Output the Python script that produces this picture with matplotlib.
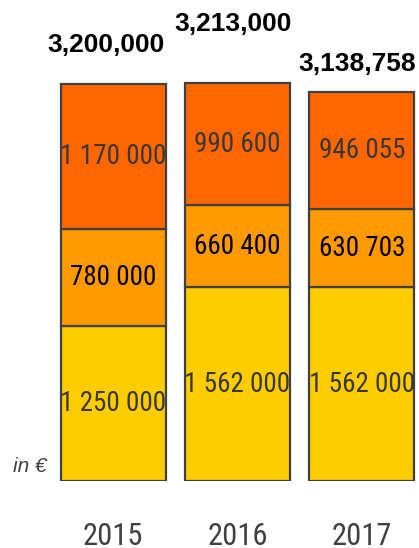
import matplotlib
matplotlib.use("Agg")
import matplotlib.pyplot as plt
from matplotlib import font_manager

years = ["2015", "2016", "2017"]
bottom_vals = [1250000, 1562000, 1562000]
middle_vals = [780000, 660400, 630703]
top_vals = [1170000, 990600, 946055]
totals = [3200000, 3213000, 3138758]
total_labels = ["3,200,000", "3,213,000", "3,138,758"]

def fmt(v):
    return f"{v:,}".replace(",", " ")

names = {f.name for f in font_manager.fontManager.ttflist}
if "Roboto Condensed" in names:
    cond = "Roboto Condensed"
    seg_size = 19.5
    yr_size = 22
elif "Liberation Sans Narrow" in names:
    cond = "Liberation Sans Narrow"
    seg_size = 20
    yr_size = 23
else:
    cond = "Roboto"
    seg_size = 15
    yr_size = 18

W, H = 419, 548
fig = plt.figure(figsize=(W / 100, H / 100), dpi=100)
ax_bottom = (H - 481) / H
ax = fig.add_axes([0, ax_bottom, 1, 1 - ax_bottom])
px_per_unit = 124.3
c0 = 113.2
ax.set_xlim(-c0 / px_per_unit, (W - c0) / px_per_unit)
ax.set_ylim(0, 481 / 124.0 * 1e6)

x = list(range(len(years)))
edge = "#404040"
width = 0.845
colors = ["#FFCC00", "#FF9900", "#FF6600"]
bottoms = [0] * 3
segs = [bottom_vals, middle_vals, top_vals]
txt_colors = ["#383838", "#000000", "#383838"]
for vals, col, tc in zip(segs, colors, txt_colors):
    ax.bar(x, vals, width=width, bottom=bottoms, color=col,
           edgecolor=edge, linewidth=1.6, zorder=2)
    for xi, v, b in zip(x, vals, bottoms):
        ax.text(xi, b + v / 2, fmt(v), ha="center", va="center",
                fontsize=seg_size, family=cond, color=tc, zorder=3)
    bottoms = [b + v for b, v in zip(bottoms, vals)]

offsets = [(-5, 28), (-3.5, 42), (-3, 20)]
for xi, t, lab, off in zip(x, totals, total_labels, offsets):
    ax.annotate(lab, (xi, t), xytext=off, textcoords="offset points",
                ha="center", va="center", fontsize=19, fontweight="bold",
                family="Liberation Sans", color="#000000")

for xi, yr in zip(x, years):
    ax.annotate(yr, (xi, 0), xytext=(0, -46), textcoords="offset points",
                ha="center", va="baseline", fontsize=yr_size, family=cond,
                color="#404040", annotation_clip=False)
ax.set_xticks([])
ax.set_yticks([])
for s in ax.spines.values():
    s.set_visible(False)
ax.patch.set_alpha(0)

fig.text(30 / W, 1 - 467 / H, "in €", ha="center", va="center",
         fontsize=15, style="italic", family="Liberation Sans", color="#404040")

fig.savefig("out.png", dpi=100)
